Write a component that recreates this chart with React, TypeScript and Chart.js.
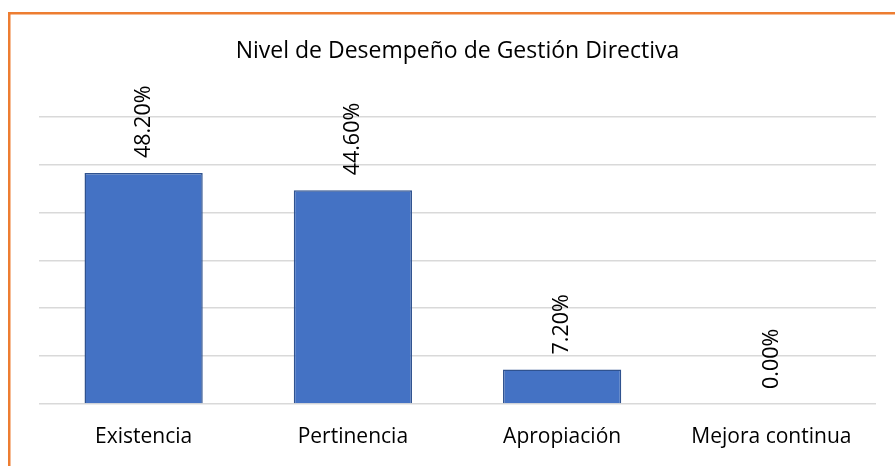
import React, { useEffect, useRef } from "react";
import { Chart, registerables } from "chart.js";

Chart.register(...registerables);

const categories = ["Existencia", "Pertinencia", "Apropiación", "Mejora continua"];
const values = [48.2, 44.6, 7.2, 0.0];
const valueLabels = ["48.20%", "44.60%", "7.20%", "0.00%"];
const chartTitle = "Nivel de Desempeño de Gestión Directiva";
const yMin = 0;
const yMax = 60;
const yStep = 10;

const FONT = "'Open Sans'";

const framePlugin = {
  id: "frame",
  beforeDraw(chart: any) {
    const { ctx, width, height } = chart;
    ctx.save();
    ctx.fillStyle = "#ffffff";
    ctx.fillRect(0, 0, width, height);
    ctx.fillStyle = "#ED7D31";
    ctx.fillRect(8, 12, width - 8, 2.5);
    ctx.fillRect(8, 12, 2.5, height - 12);
    ctx.restore();
  },
};

const valueLabelPlugin = {
  id: "valueLabels",
  afterDatasetsDraw(chart: any) {
    const { ctx } = chart;
    const meta = chart.getDatasetMeta(0);
    ctx.save();
    ctx.fillStyle = "#000000";
    ctx.font = `21.5px ${FONT}`;
    ctx.textAlign = "left";
    ctx.textBaseline = "middle";
    meta.data.forEach((bar: any, i: number) => {
      ctx.save();
      ctx.translate(bar.x, bar.y - 15);
      ctx.rotate(-Math.PI / 2);
      ctx.fillText(valueLabels[i], 0, 0);
      ctx.restore();
    });
    ctx.restore();
  },
};

export default function App() {
  const ref = useRef<HTMLCanvasElement | null>(null);

  useEffect(() => {
    if (!ref.current) return;
    const chart = new Chart(ref.current, {
      type: "bar",
      data: {
        labels: categories,
        datasets: [
          {
            data: values,
            backgroundColor: "#4472C4",
            borderColor: "#2F528F",
            borderWidth: 1.5,
            categoryPercentage: 1,
            barPercentage: 0.565,
          },
        ],
      },
      options: {
        responsive: false,
        animation: false,
        layout: { padding: { left: 39, right: 19, top: 14, bottom: 0 } },
        plugins: {
          legend: { display: false },
          tooltip: { enabled: false },
          title: {
            display: true,
            text: chartTitle,
            color: "#000000",
            font: { family: FONT, size: 23, weight: "normal" },
            lineHeight: 1.2,
            padding: { top: 24, bottom: 51 },
          },
        },
        scales: {
          x: {
            grid: { display: false },
            border: { display: false },
            ticks: {
              color: "#000000",
              font: { family: FONT, size: 21 },
              padding: 12,
              maxRotation: 0,
            },
            afterFit: (s: any) => {
              s.height = 62;
            },
          },
          y: {
            min: yMin,
            max: yMax,
            grid: { color: "#D9D9D9", lineWidth: 1.5, drawTicks: false },
            border: { display: false },
            ticks: { display: false, stepSize: yStep },
            afterFit: (s: any) => {
              s.width = 0;
            },
          },
        },
      },
      plugins: [framePlugin, valueLabelPlugin],
    });
    return () => chart.destroy();
  }, []);

  return (
    <div style={{ position: "fixed", left: 0, top: 0, width: 895, height: 466, background: "#fff" }}>
      <canvas ref={ref} width={895} height={466} style={{ display: "block" }} />
    </div>
  );
}
